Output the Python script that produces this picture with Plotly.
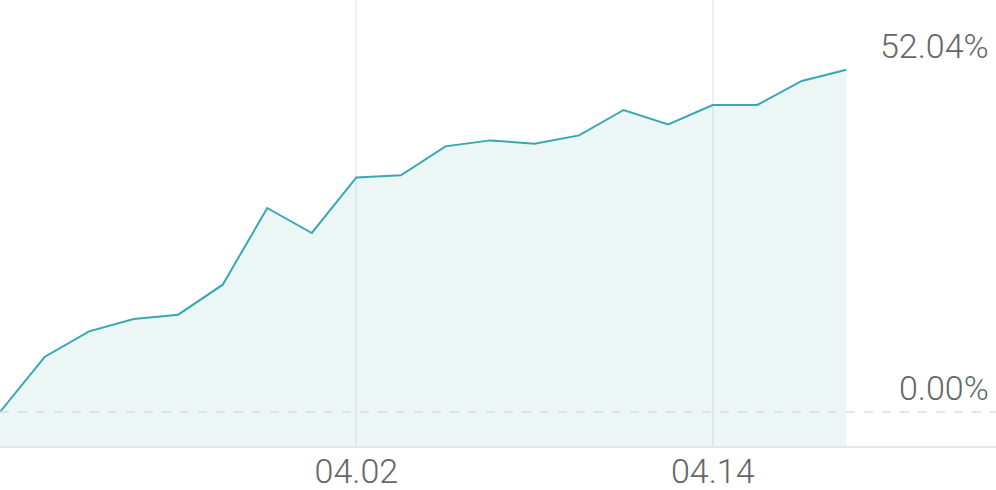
import plotly.graph_objects as go

# trading days (2025), MM.DD
dates = ["03.21", "03.24", "03.25", "03.26", "03.27", "03.28", "03.31", "04.01",
         "04.02", "04.03", "04.04", "04.07", "04.08", "04.09", "04.10", "04.11",
         "04.14", "04.15", "04.16", "04.17"]
# cumulative return, %
returns = [0.0, 8.36, 12.25, 14.14, 14.79, 19.35, 31.01, 27.21,
           35.66, 35.97, 40.38, 41.29, 40.79, 42.05, 45.91, 43.72,
           46.67, 46.67, 50.32, 52.04]
tick_labels = ["04.02", "04.14"]

y_min, y_max = -5.17, 62.63
line_col = "#38a8b2"
txt_col = "#666666"
font_fam = "Roboto"

fig = go.Figure()

# invisible floor so the fill runs down to the axis line
fig.add_trace(go.Scatter(x=dates, y=[y_min] * len(dates), mode="lines",
                         line=dict(width=0, color="rgba(0,0,0,0)"),
                         hoverinfo="skip", showlegend=False))
fig.add_trace(go.Scatter(x=dates, y=returns, mode="lines",
                         line=dict(color=line_col, width=2),
                         fill="tonexty", fillcolor="rgba(56,168,160,0.10)",
                         showlegend=False))

# dashed zero line
fig.add_shape(type="line", xref="paper", yref="y", x0=0, x1=1, y0=0, y1=0,
              line=dict(color="#dddddd", width=1.5, dash="dash"), layer="above")

fig.add_annotation(x=1, xref="paper", y=returns[-1], yref="y",
                   text="%.2f%%" % returns[-1], showarrow=False,
                   xanchor="right", yanchor="bottom", xshift=-5, yshift=2,
                   font=dict(family=font_fam, size=34, color=txt_col, weight=300))
fig.add_annotation(x=1, xref="paper", y=0, yref="y",
                   text="%.2f%%" % 0, showarrow=False,
                   xanchor="right", yanchor="bottom", xshift=-5, yshift=2,
                   font=dict(family=font_fam, size=34, color=txt_col, weight=300))

fig.update_layout(
    width=996, height=490,
    margin=dict(l=0, r=0, t=0, b=44),
    plot_bgcolor="white", paper_bgcolor="white",
    showlegend=False,
    xaxis=dict(
        type="category",
        range=[0, 22.36],
        automargin=False,
        tickmode="array", tickvals=tick_labels, ticktext=tick_labels,
        showgrid=True, gridcolor="#f0f0f0", gridwidth=2,
        showline=True, linecolor="#e6e6e6", linewidth=2,
        ticks="", zeroline=False, ticklabelstandoff=-6,
        tickfont=dict(family=font_fam, size=34, color=txt_col, weight=300),
    ),
    yaxis=dict(
        range=[y_min, y_max], automargin=False,
        showgrid=False, zeroline=False, showticklabels=False, showline=False,
    ),
)

fig.write_html("out.html", config={"displayModeBar": False},
               post_script="document.body.style.margin='0';")
